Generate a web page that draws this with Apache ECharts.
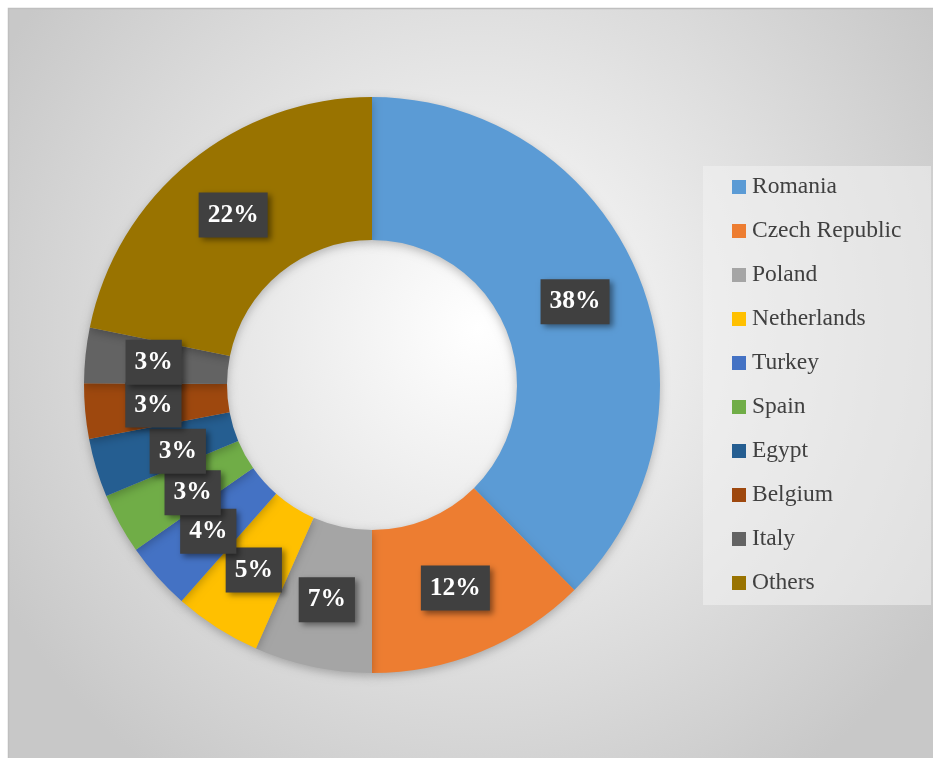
<!DOCTYPE html>
<html>
<head>
<meta charset="utf-8">
<script src="https://cdn.jsdelivr.net/npm/echarts@6/dist/echarts.min.js"></script>
<style>
html,body{margin:0;padding:0;background:#ffffff;}
#main{width:933px;height:758px;}
</style>
</head>
<body>
<div id="main"></div>
<script>
const categories = ['Romania','Czech Republic','Poland','Netherlands','Turkey','Spain','Egypt','Belgium','Italy','Others'];
const shares = [37.6, 12.4, 6.6, 4.9, 3.8, 3.4, 3.3, 3.1, 3.1, 21.8];
const colors = ['#5B9BD5','#ED7D31','#A5A5A5','#FFC000','#4472C4','#70AD47','#255E91','#9E480E','#636363','#997300'];

const chart = echarts.init(document.getElementById('main'));
chart.setOption({
  animation: false,
  graphic: [
    {
      type: 'rect', z: -10, silent: true,
      shape: { x: 8.5, y: 8.5, width: 940, height: 760 },
      style: {
        fill: new echarts.graphic.RadialGradient(0.5, 0.42, 0.72, [
          { offset: 0, color: '#ffffff' },
          { offset: 1, color: '#c8c8c8' }
        ]),
        stroke: '#bfbfbf', lineWidth: 1.5
      }
    },
    {
      type: 'rect', z: -5, silent: true,
      shape: { x: 703, y: 166, width: 228, height: 439 },
      style: { fill: 'rgba(242,242,242,0.55)' }
    }
  ],
  legend: {
    orient: 'vertical',
    left: 732,
    top: 175,
    padding: 0,
    itemWidth: 14,
    itemHeight: 14,
    itemGap: 20,
    icon: 'rect',
    selectedMode: false,
    textStyle: {
      fontFamily: 'Liberation Serif',
      fontSize: 23.5,
      color: '#404040',
      lineHeight: 24,
      padding: [0, 0, 0, 1]
    },
    data: categories
  },
  series: [{
    type: 'pie',
    center: [372, 385],
    radius: [145, 288],
    startAngle: 90,
    clockwise: true,
    percentPrecision: 0,
    avoidLabelOverlap: false,
    itemStyle: {
      shadowBlur: 10,
      shadowColor: 'rgba(0,0,0,0.25)',
      shadowOffsetY: 3
    },
    label: {
      show: true,
      position: 'inside',
      formatter: '{d}%',
      fontFamily: 'Liberation Serif',
      fontWeight: 'bold',
      fontSize: 25.5,
      lineHeight: 25,
      color: '#ffffff',
      backgroundColor: '#404040',
      padding: [10, 9],
      shadowBlur: 6,
      shadowColor: 'rgba(0,0,0,0.45)',
      shadowOffsetX: 3,
      shadowOffsetY: 3
    },
    labelLayout: function (p) {
      // nudge the two crowded labels right, as in the original
      if (p.dataIndex === 6) return { hideOverlap: false, dx: 16, dy: 3 };
      if (p.dataIndex === 5) return { hideOverlap: false, dx: 13, dy: 2 };
      return { hideOverlap: false };
    },
    labelLine: { show: false },
    emphasis: { disabled: true },
    data: categories.map((c, i) => ({ name: c, value: shares[i], itemStyle: { color: colors[i] } }))
  }]
});
</script>
</body>
</html>
